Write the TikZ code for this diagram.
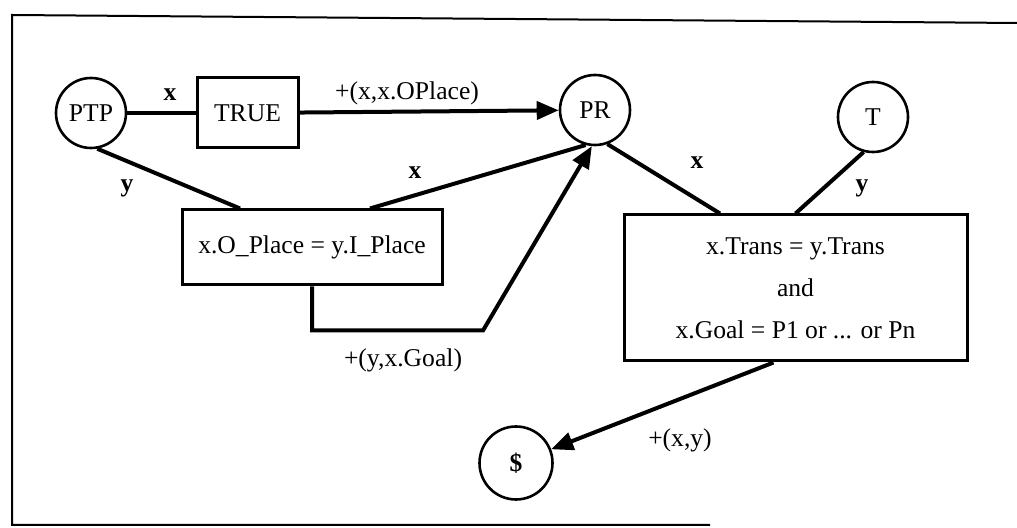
\documentclass[tikz,border=0pt]{standalone}
\usepackage{fontspec}
\setmainfont{Liberation Serif}
\usetikzlibrary{arrows.meta}

\begin{document}
\begin{tikzpicture}[x=0.5pt,y=-0.5pt,
    every node/.style={font=\fontsize{12.8}{15}\selectfont},
    place/.style={draw,circle,line width=1.3pt,minimum size=35pt,inner sep=0pt},
    guard/.style={draw,line width=1.5pt,inner sep=0pt,align=center},
    arc/.style={line width=2pt},
    tip/.style={-{Triangle[length=11pt,width=9pt]}},
    var/.style={font=\fontsize{12.8}{15}\selectfont\bfseries}]
    \useasboundingbox (0,0) rectangle (1017,528);
    \draw[line width=1pt] (1017,23) -- (12,15) -- (12,525) -- (710,525);
    \node[place] (PTP) at (91,113) {PTP};
    \node[guard,minimum width=50.5pt,minimum height=35pt] (TRUE) at (247.5,113) {TRUE};
    \node[place] (PR) at (595,110) {PR};
    \node[place] (T) at (873,117) {T};
    \node[place,minimum size=36.5pt] (S) at (516,463) {\textbf{\$}};
    \node[guard,minimum width=130pt,minimum height=37.5pt] (O) at (312,247.5) {x.O\_Place = y.I\_Place};
    \node[guard,minimum width=171.5pt,minimum height=73pt] (G) at (795.5,288) {x.Trans = y.Trans\\[6pt]and\\[6pt]x.Goal = P1 or ... or Pn};
    \node[var] (xa) at (170,95) {x};
    \node (oplace) at (407,93) {+(x,x.OPlace)};
    \node[var] (ya) at (127,188) {y};
    \node[var] (xb) at (415,173) {x};
    \node (goal) at (403,360) {+(y,x.Goal)};
    \node[var] (xc) at (697,163) {x};
    \node[var] (yb) at (862,188) {y};
    \node (xy) at (680,440) {+(x,y)};
    \draw[arc] (PTP) -- (TRUE);
    \draw[arc,tip] (TRUE) -- (PR);
    \draw[arc] (PTP.280) -- ([xshift=-36pt]O.north);
    \draw[arc] ([xshift=29pt]O.north) -- (PR.255);
    \draw[arc,tip] (O.south) -- ++(0,44) -- ++(171,0) -- (PR.265);
    \draw[arc] (PR.290) -- ([xshift=-37.75pt]G.north);
    \draw[arc] (T.255) -- (G.north);
    \draw[arc,tip] ([xshift=-11pt]G.south) -- (S);
\end{tikzpicture}
\end{document}
